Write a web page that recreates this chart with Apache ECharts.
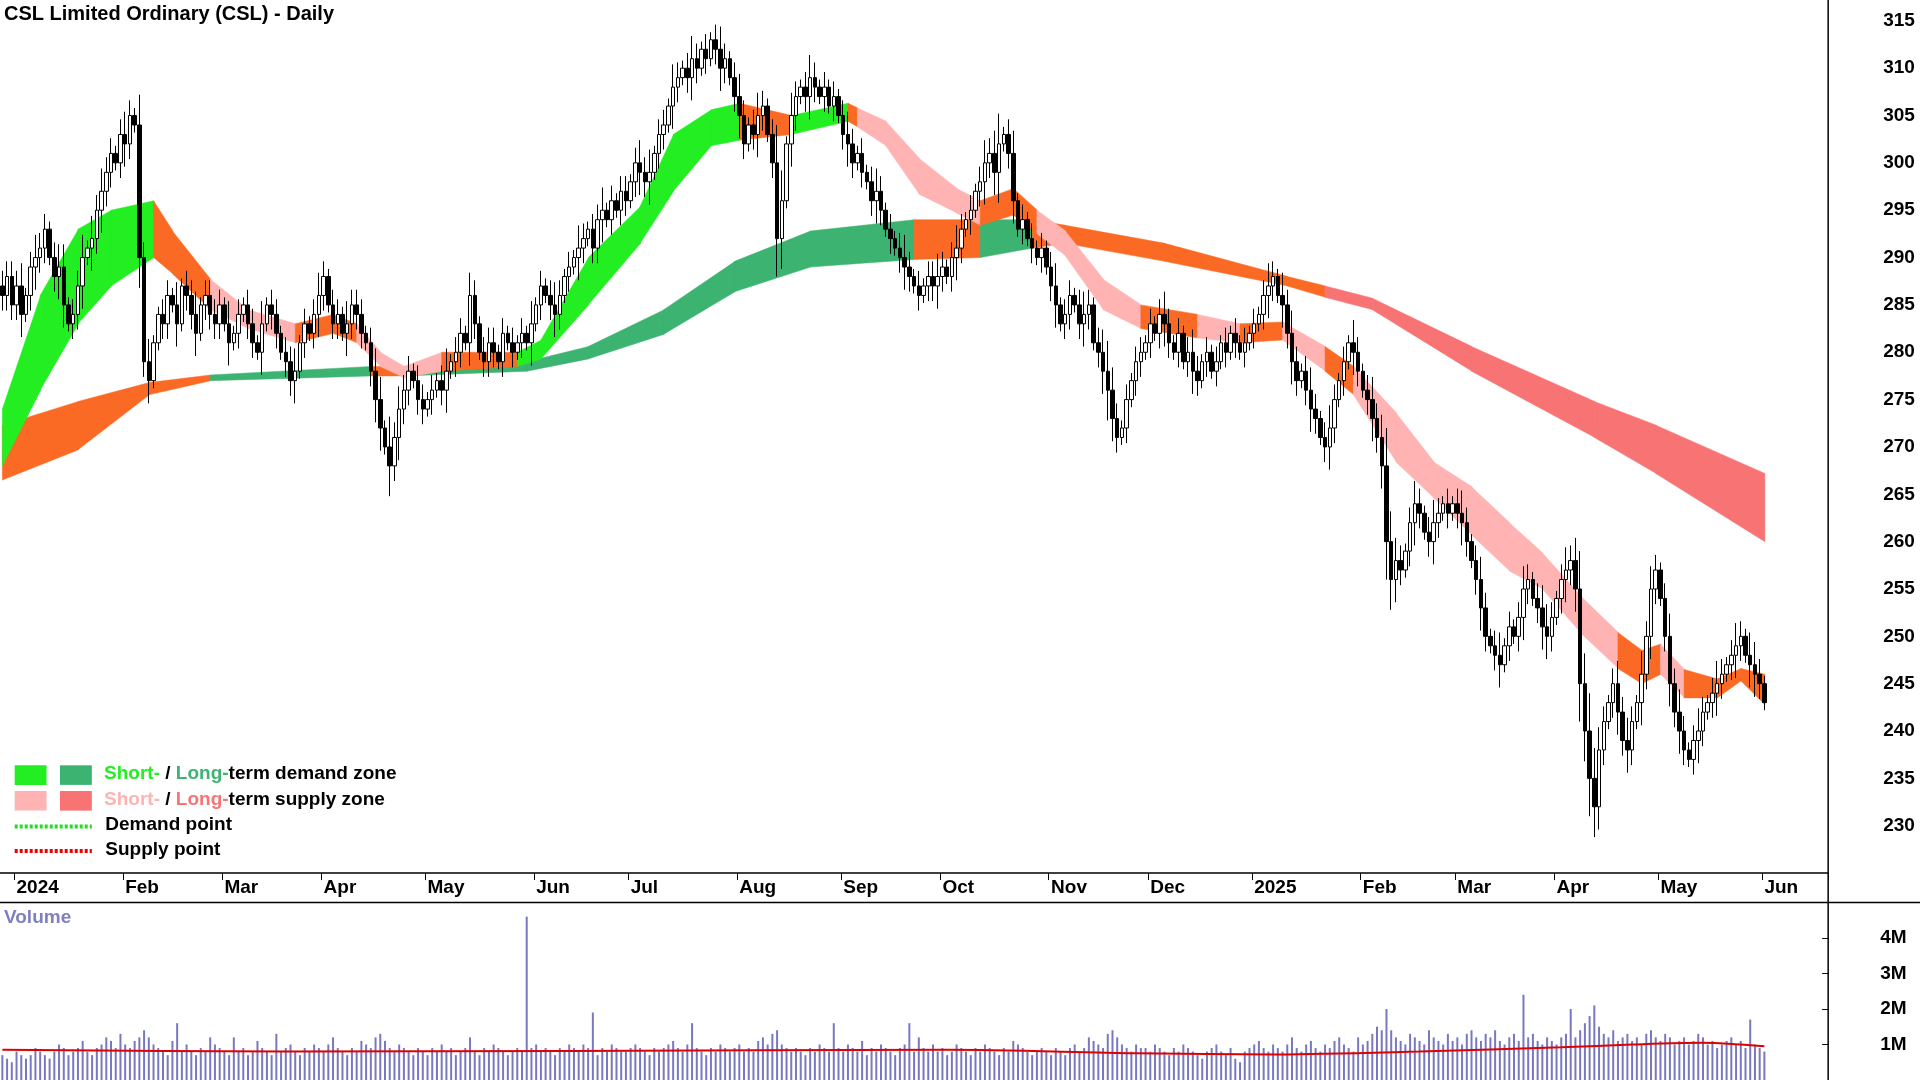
<!DOCTYPE html>
<html>
<head>
<meta charset="utf-8">
<script src="https://cdn.jsdelivr.net/npm/echarts@6/dist/echarts.min.js"></script>
<style>html,body{margin:0;padding:0;background:#fff}#chart{width:1920px;height:1080px}</style>
</head>
<body>
<div id="chart"></div>
<script>
// 收盘价（按月）
const closeDec23 = [286,288,285];
const closeJan24 = [287,284,286,289,290,291,293,290,288,289,285,283,284,287,290,291,292,295,297,299,301,300];
const closeFeb24 = [303,302,305,304,290,279,277,281,284,283,286,285,283,287,286,284,282,285,286,284,283];
const closeMar24 = [285,283,281,282,284,285,283,281,280,283,285,284,282,280,279,277,278,281,283,282,284];
const closeApr24 = [286,288,285,283,284,282,283,285,284,282,281,278,275,272,270,268,271,274,276,278,277,275];
const closeMay24 = [274,275,276,277,276,278,279,280,282,281,286,283,280,279,281,280,279,282,281,280,281,282,281];
const closeJun24 = [283,285,287,286,285,284,286,288,289,290,291,292,293,291,294,295,294,296,295,297];
const closeJul24 = [296,298,300,299,298,299,301,303,304,306,308,309,310,309,311,310,312,311,313,312,310,311,309];
const closeAug24 = [307,305,302,304,303,305,306,303,300,292,296,302,305,307,308,307,309,308,307,308,306,307];
const closeSep24 = [305,303,302,300,301,299,298,296,297,295,293,292,291,290,289,288,287,286,287,288,287];
const closeOct24 = [288,289,288,290,291,293,294,295,297,298,300,301,299,302,303,301,296,293,294,292,291,290,291];
const closeNov24 = [289,287,285,283,284,286,285,283,284,285,281,280,278,276,273,271,272,275,277,279,280];
const closeDec24 = [281,283,282,284,283,281,280,282,279,280,278,277,279,280,278,279,281,280,282,281,280,281];
const closeJan25 = [282,283,284,286,287,288,286,285,282,279,277,278,276,274,273,271,270,272,275,277,279,281,280];
const closeFeb25 = [278,276,275,273,271,268,260,256,258,257,259,262,264,263,261,260,262,263,264,263];
const closeMar25 = [264,263,262,260,258,256,253,250,249,248,247,249,251,250,252,255,256,254,253,251,250];
const closeApr25 = [252,254,256,257,258,255,245,240,235,232,238,241,243,245,242,239,238,241,243,246,250,255];
const closeMay25 = [257,254,250,245,242,240,238,237,239,240,242,243,244,245,246,247,248,249,250,248,247,246];
const closeJun25 = [245,243];

// 影线长度（每根K线一位数字）
const wickDigits = '222' +
  '2312322123312231323221' + '232142311221312231222' + '213121221312212231212' +
  '3212213222123314232212' + '21212312213212221212121' + '31212321213212231212' +
  '21232312213212321212321' + '232123212541321232121' + '212321212321212321212' +
  '23212321212323412312121' + '212312212321234321212' + '2121232121232121212121' +
  '21212321323212321232121' + '32123235432123212321' + '212321232123121232123' +
  '3212323545432123232132' + '3212323212321232123213' + '32';

// 成交量（单位 0.1M）
const volTenths = [
  7,6,5,
  8,7,6,7,9,8,7,6,8,10,9,7,8,9,11,8,7,9,10,12,11,9,
  13,10,9,11,12,14,12,10,9,8,7,11,16,8,10,8,7,9,8,12,10,
  9,8,7,12,8,9,7,8,11,9,8,7,13,8,9,10,8,7,9,8,10,
  9,8,10,12,9,8,7,9,8,11,10,9,12,13,11,9,8,10,9,8,7,9,
  8,7,9,8,10,8,9,7,8,9,12,8,7,9,8,10,9,8,7,8,9,8,46,
  9,10,8,9,8,7,9,8,10,9,8,10,9,19,7,9,8,10,9,8,
  8,9,10,9,8,7,9,8,9,10,11,9,8,10,16,9,8,7,9,8,10,9,8,
  9,10,8,9,8,11,12,10,13,14,10,9,8,9,8,7,9,8,10,9,8,16,
  9,8,10,9,8,11,7,9,8,10,9,8,7,9,10,16,8,12,9,8,10,
  8,9,7,8,10,9,8,7,9,8,10,9,8,7,9,8,11,10,9,8,7,8,9,
  8,7,9,8,7,9,10,8,9,12,11,10,9,13,14,12,10,9,8,10,9,
  9,8,10,9,8,7,9,8,10,9,8,7,6,8,9,10,8,7,9,6,5,8,
  9,10,11,9,8,10,9,8,10,12,9,8,10,11,9,8,10,9,11,12,10,9,8,
  12,10,11,13,15,14,20,14,12,11,10,13,12,11,10,14,12,11,10,13,
  11,12,10,13,14,12,11,13,12,14,11,10,12,13,11,24,12,13,11,10,12,
  11,10,12,13,20,12,14,16,18,21,15,13,12,14,11,12,13,11,12,10,13,14,
  12,11,13,12,10,11,12,10,11,13,12,10,11,9,10,11,12,10,11,9,17,10,
  9,8
];
// 成交量均线节点 [索引, M]
const volAvgKnots = [[0,0.85],[60,0.8],[120,0.82],[200,0.85],[240,0.75],[270,0.72],[300,0.8],[330,0.92],[345,1.0],[360,1.05],[373,0.95]];

// 短期区带节点 [索引, 上沿, 下沿, 颜色]
const shortBand = [
  [0,274,268,'g'],[8,286,276,'g'],[16,293,283,'g'],[23,295,287,'g'],[32,296,290,'o'],[36,292.8,288.3,'o'],
  [44,287.7,284.5,'p'],[52,284.5,282.5,'p'],[62,283,281,'o'],[70,284,282,'o'],[75,283,281,'p'],[80,280,278.5,'p'],
  [85,278.5,277.3,'p'],[93,280,278,'o'],[109,280,278.5,'g'],[114,281.3,279.3,'g'],[124,290,285,'g'],[135,295.4,291.5,'g'],
  [142,303,297,'g'],[150,305.6,301.8,'g'],[156,306.3,302.4,'o'],[167,305,303,'g'],[179,306.3,304.4,'o'],[181,305.8,303.8,'p'],
  [187,304.4,301.8,'p'],[194,300.5,296.7,'p'],[202,297.3,294.7,'p'],[207,296,293.4,'o'],[214,297.3,294.5,'o'],[219,295,292.5,'p'],
  [225,292.8,290.2,'p'],[233,287.7,284.5,'p'],[241,285,282.5,'o'],[253,284,281.5,'p'],[262,283,281,'o'],[271,283.2,281.3,'p'],
  [280,280.6,278,'o'],[286,278.5,275.5,'p'],[295,273.6,268.4,'p'],[303,268.4,264.6,'p'],[311,265.8,260.7,'p'],[319,262,256.9,'p'],
  [326,258.8,255,'p'],[334,254.3,250.4,'p'],[342,250.4,246.6,'o'],[347,248.5,245,'o'],[351,249.2,246,'p'],[356,246.5,243.5,'o'],
  [363,245.5,243.5,'o'],[368,246.6,245.3,'o'],[373,246,242.8,'o']
];
// 长期区带节点
const longBand = [
  [0,272.3,266.5,'o'],[16,274.8,269.7,'o'],[31,276.8,275.5,'o'],[44,277.6,277,'dg'],[78,278.5,277.5,'o'],[85,278.5,277.5,'dg'],
  [111,279,278,'dg'],[124,280.6,279.3,'dg'],[140,284.5,281.9,'dg'],[155,289.6,286.4,'dg'],[171,292.8,289,'dg'],[193,294,289.8,'o'],
  [207,294,290,'dg'],[218,294,291,'o'],[225,293.4,291.5,'o'],[246,291.5,289.6,'o'],[272,288,287,'o'],[280,287,285.8,'r'],
  [290,285.7,284.5,'r'],[311,280.6,278,'r'],[337,274.8,271,'r'],[350,272.3,267.2,'r'],[373,267.2,260,'r']
];
const priceTicks = [230,235,240,245,250,255,260,265,270,275,280,285,290,295,300,305,310,315];

const S = 1920 / 1568;
const zoneColor = {g:'#22ee22', dg:'#3cb371', o:'#fb6a24', p:'#ffb3b3', r:'#f87474'};
const monthNames = ['Jan','Feb','Mar','Apr','May','Jun','Jul','Aug','Sep','Oct','Nov','Dec'];
const FONT = 'Liberation Sans';

const closes = [].concat(closeDec23, closeJan24, closeFeb24, closeMar24, closeApr24, closeMay24, closeJun24,
  closeJul24, closeAug24, closeSep24, closeOct24, closeNov24, closeDec24, closeJan25, closeFeb25,
  closeMar25, closeApr25, closeMay25, closeJun25);

// 交易日（工作日）
const dates = [];
let d = new Date(Date.UTC(2023, 11, 27));
while (dates.length < closes.length + 13) {
  const wd = d.getUTCDay();
  if (wd !== 0 && wd !== 6) dates.push(new Date(d));
  d.setUTCDate(d.getUTCDate() + 1);
}
const cats = dates.map(x => x.toISOString().slice(0, 10));
const isMonthStart = i => i > 0 && dates[i].getUTCMonth() !== dates[i - 1].getUTCMonth();

// K线数据 [open, close, low, high]
const candles = closes.map((c, i) => {
  const o = i === 0 ? c + 1 : closes[i - 1];
  const w = +(wickDigits[i] || 1);
  return [o, c, Math.min(o, c) - w * 0.8, Math.max(o, c) + w * 0.8];
});
const volumes = closes.map((c, i) => (volTenths[i] || 6) * 1e5);
const volAvg = volAvgKnots.map(k => [k[0], k[1] * 1e6]);

function bandData(band) {
  const out = [];
  for (let i = 0; i < band.length - 1; i++) {
    const a = band[i], b = band[i + 1];
    out.push([a[0], a[2], a[1], b[0], b[2], b[1], a[3]]);
  }
  return out;
}
function bandRender(params, api) {
  const p0 = api.coord([api.value(0), api.value(1)]);
  const p1 = api.coord([api.value(0), api.value(2)]);
  const p2 = api.coord([api.value(3), api.value(5)]);
  const p3 = api.coord([api.value(3), api.value(4)]);
  return {
    type: 'polygon',
    shape: {points: [p0, p1, [p2[0] + 0.5, p2[1]], [p3[0] + 0.5, p3[1]]]},
    style: {fill: zoneColor[api.value(6)], stroke: zoneColor[api.value(6)], lineWidth: 0.5}
  };
}

const chart = echarts.init(document.getElementById('chart'));
const labelStyle = {color: '#000', fontFamily: FONT, fontWeight: 'bold', fontSize: 19};

const legendRows = [
  {y: 633, c1: zoneColor.g, c2: zoneColor.dg, text: '{a|Short-} / {b|Long-}term demand zone'},
  {y: 654, c1: zoneColor.p, c2: zoneColor.r, text: '{a|Short-} / {b|Long-}term supply zone'}
];
const graphics = [];
legendRows.forEach((r, k) => {
  graphics.push({type: 'rect', left: 12 * S, top: (r.y - 8) * S, shape: {width: 26 * S, height: 16 * S}, style: {fill: r.c1}});
  graphics.push({type: 'rect', left: 49 * S, top: (r.y - 8) * S, shape: {width: 26 * S, height: 16 * S}, style: {fill: r.c2}});
  graphics.push({type: 'text', left: 85 * S, top: (r.y - 9) * S, style: {
    text: r.text, fill: '#000', font: 'bold 19px ' + FONT,
    rich: {a: {fill: r.c1, font: 'bold 19px ' + FONT}, b: {fill: r.c2, font: 'bold 19px ' + FONT}}}});
});
[{y: 675, c: '#22dd22', t: 'Demand point'}, {y: 695, c: '#ee0000', t: 'Supply point'}].forEach(r => {
  graphics.push({type: 'line', shape: {x1: 12 * S, y1: r.y * S, x2: 75 * S, y2: r.y * S}, style: {stroke: r.c, lineWidth: 4, lineDash: [3, 2]}});
  graphics.push({type: 'text', left: 86 * S, top: (r.y - 9) * S, style: {text: r.t, fill: '#000', font: 'bold 19px ' + FONT}});
});
graphics.push({type: 'text', left: 4, top: 4, style: {text: 'CSL Limited Ordinary (CSL) - Daily', fill: '#000', font: 'bold 20px ' + FONT}});
graphics.push({type: 'text', left: 4, top: 751 * S - 11, style: {text: 'Volume', fill: '#8080c0', font: 'bold 19px ' + FONT}});
graphics.push({type: 'line', shape: {x1: 0, y1: 737 * S, x2: 1920, y2: 737 * S}, style: {stroke: '#000', lineWidth: 1.5}});
graphics.push({type: 'line', shape: {x1: 1493 * S, y1: 0, x2: 1493 * S, y2: 1080}, style: {stroke: '#000', lineWidth: 1.5}});

chart.setOption({
  animation: false,
  grid: [
    {left: 0, right: 1920 - 1493 * S, top: 0, bottom: 1080 - 713 * S},
    {left: 0, right: 1920 - 1493 * S, top: 737 * S, bottom: 0}
  ],
  xAxis: [
    {type: 'category', data: cats, gridIndex: 0, boundaryGap: true,
     axisLine: {lineStyle: {color: '#000', width: 1.5}},
     axisTick: {show: true, interval: (i) => isMonthStart(i), length: 7, lineStyle: {color: '#000'}},
     axisLabel: {...labelStyle, interval: (i) => isMonthStart(i), align: 'left', margin: 5, padding: [0, 0, 0, 0],
       formatter: (v) => { const m = +v.slice(5, 7) - 1; return m === 0 ? v.slice(0, 4) : monthNames[m]; }},
     splitLine: {show: false}},
    {type: 'category', data: cats, gridIndex: 1, boundaryGap: true, axisLine: {show: false}, axisTick: {show: false}, axisLabel: {show: false}}
  ],
  yAxis: [
    {type: 'value', gridIndex: 0, position: 'right', min: 225, max: 317.2, interval: 5,
     axisLine: {show: false}, axisTick: {show: false}, splitLine: {show: false},
     axisLabel: {...labelStyle, margin: 55, formatter: (v) => priceTicks.includes(v) ? String(v) : ''}},
    {type: 'value', gridIndex: 1, position: 'right', min: 0, max: 5e6, interval: 1e6,
     axisLine: {show: false}, splitLine: {show: false},
     axisTick: {show: true, inside: true, length: 6, lineStyle: {color: '#000'}},
     axisLabel: {...labelStyle, margin: 52, formatter: (v) => (v > 0 && v < 5e6) ? (v / 1e6) + 'M' : ''}}
  ],
  graphic: graphics,
  series: [
    {type: 'custom', renderItem: bandRender, data: bandData(longBand), xAxisIndex: 0, yAxisIndex: 0, encode: {x: [0, 3], y: [1, 2, 4, 5]}, silent: true},
    {type: 'custom', renderItem: bandRender, data: bandData(shortBand), xAxisIndex: 0, yAxisIndex: 0, encode: {x: [0, 3], y: [1, 2, 4, 5]}, silent: true},
    {type: 'candlestick', data: candles, xAxisIndex: 0, yAxisIndex: 0, barWidth: 4,
     itemStyle: {color: '#fff', color0: '#000', borderColor: '#000', borderColor0: '#000', borderWidth: 1}},
    {type: 'bar', data: volumes, xAxisIndex: 1, yAxisIndex: 1, barWidth: 2, itemStyle: {color: '#7878c0'}},
    {type: 'line', data: volAvg, xAxisIndex: 1, yAxisIndex: 1, symbol: 'none', smooth: 0.3,
     lineStyle: {color: '#e00000', width: 2}}
  ]
});
</script>
</body>
</html>
